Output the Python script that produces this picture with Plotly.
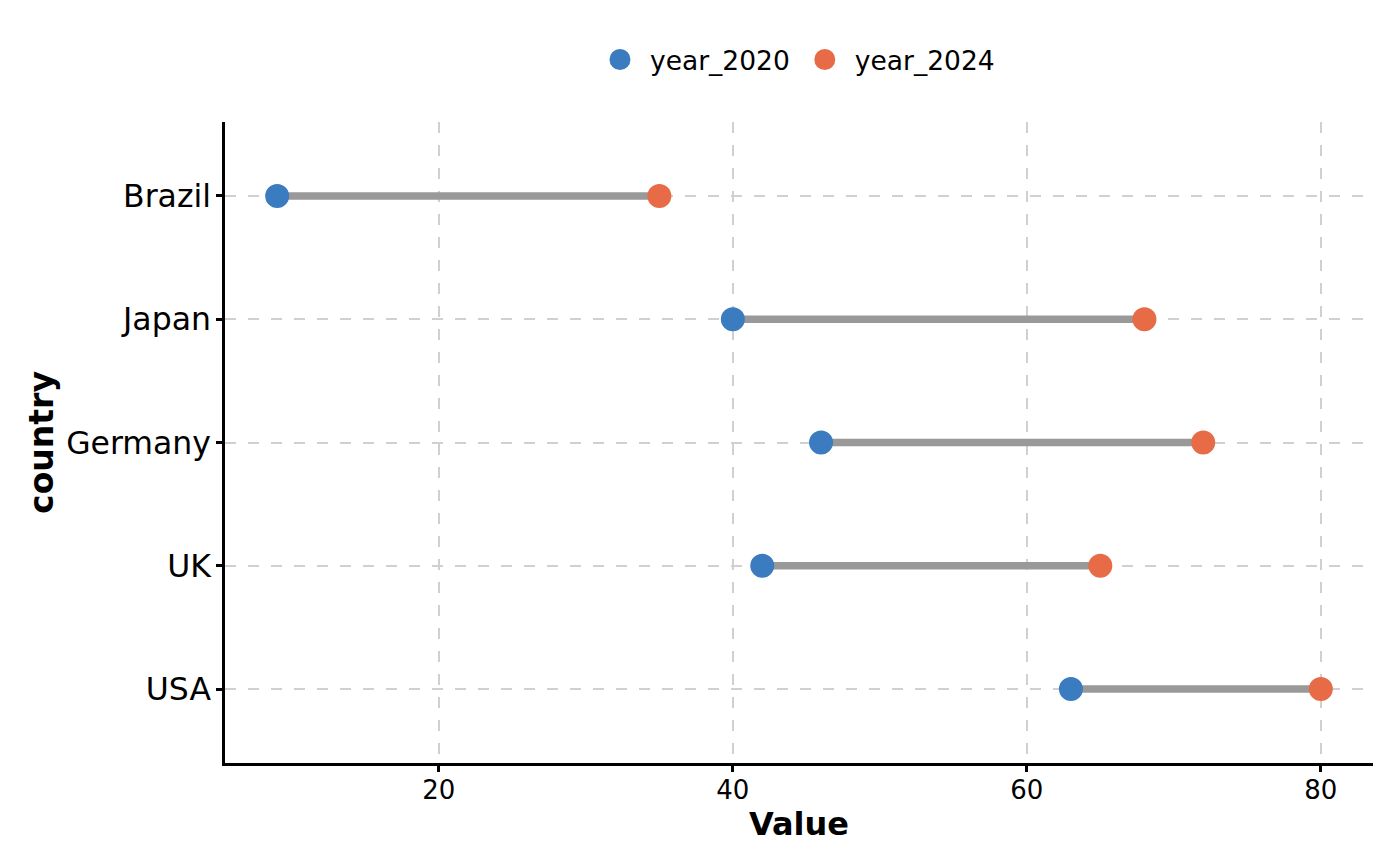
import plotly.graph_objects as go

countries = ["USA", "UK", "Germany", "Japan", "Brazil"]
year_2020 = [63, 42, 46, 40, 9]
year_2024 = [80, 65, 72, 68, 35]
x_ticks = [20, 40, 60, 80]

BLUE = "#3B7BBF"
ORANGE = "#E76B46"
GRAY = "#999999"
GRID = "#D0D0D0"
FONT = "DejaVu Sans"

seg_x, seg_y = [], []
for c, a, b in zip(countries, year_2020, year_2024):
    seg_x += [a, b, None]
    seg_y += [c, c, None]

fig = go.Figure()
fig.add_trace(go.Scatter(x=seg_x, y=seg_y, mode="lines",
                         line=dict(color=GRAY, width=7.5),
                         showlegend=False, hoverinfo="skip"))
fig.add_trace(go.Scatter(x=year_2020, y=countries, mode="markers", name="year_2020",
                         marker=dict(color=BLUE, size=19, line=dict(color=BLUE, width=5))))
fig.add_trace(go.Scatter(x=year_2024, y=countries, mode="markers", name="year_2024",
                         marker=dict(color=ORANGE, size=19, line=dict(color=ORANGE, width=5))))

xmin, xmax = min(year_2020), max(year_2024)
pad = (xmax - xmin) * 0.05

fig.update_layout(
    width=1400, height=866,
    paper_bgcolor="white", plot_bgcolor="white",
    margin=dict(l=217, r=35, t=114, b=111),
    font=dict(family=FONT, color="black"),
    legend=dict(orientation="h", x=0.4965, xanchor="center", y=1.097, yanchor="middle",
                font=dict(size=26.5, family=FONT), itemsizing="trace",
                itemwidth=50, tracegroupgap=0),
    xaxis=dict(range=[xmin - pad, xmax + pad], tickvals=x_ticks,
               showgrid=True, gridcolor=GRID, gridwidth=2, griddash="11px,12px",
               showline=True, linecolor="black", linewidth=2.5,
               ticks="outside", ticklen=6, tickwidth=2.5, tickcolor="black",
               ticklabelstandoff=-4,
               tickfont=dict(size=26, family=FONT), zeroline=False,
               title=dict(text="<b>Value</b>", font=dict(size=32, family=FONT), standoff=0)),
    yaxis=dict(categoryorder="array", categoryarray=countries, range=[-0.6, 4.6],
               showgrid=True, gridcolor=GRID, gridwidth=2, griddash="11px,12px",
               showline=True, linecolor="black", linewidth=2.5,
               ticks="outside", ticklen=6, tickwidth=2.5, tickcolor="black",
               ticklabelstandoff=-1,
               tickfont=dict(size=31.5, family=FONT), zeroline=False,
               title=dict(text="<b>country</b>", font=dict(size=33, family=FONT), standoff=3)),
)

fig.write_html("out.html")
